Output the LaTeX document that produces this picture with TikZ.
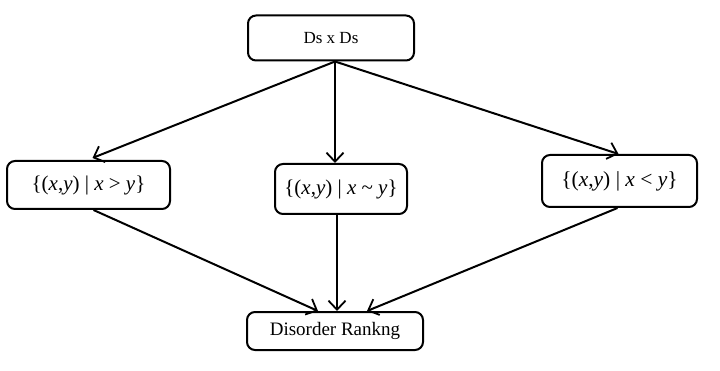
\documentclass[tikz,border=0pt]{standalone}
\usepackage{fontspec}
\setmainfont{Liberation Serif}
\usetikzlibrary{arrows.meta}
\newcommand{\vx}{\textit{x}}
\newcommand{\vy}{\textit{y}}
\begin{document}
\begin{tikzpicture}[x=1pt,y=-1pt,
  box/.style={draw,line width=2pt,rounded corners=8pt,inner sep=0pt,align=center},
  conn/.style={line width=2pt,-{Straight Barb[length=9pt,width=17pt,line width=1.8pt]}}]
\useasboundingbox (0,0) rectangle (720,371);
\node[box,minimum width=166pt,minimum height=45pt,font=\fontsize{17}{19}\selectfont] (top) at (331,38) {Ds x Ds};
\node[box,minimum width=163pt,minimum height=48pt,font=\fontsize{21}{24}\selectfont] (left) at (88.5,185) {\{(\vx,\vy) | \vx{} > \vy\}};
\node[box,minimum width=132pt,minimum height=50pt,font=\fontsize{21}{24}\selectfont] (mid) at (341,189) {\{(\vx,\vy) | \vx{} \textasciitilde{} \vy\}};
\node[box,minimum width=155pt,minimum height=52pt,font=\fontsize{21.5}{24}\selectfont] (right) at (619.5,181) {\{(\vx,\vy) | \vx{} < \vy\}};
\node[box,minimum width=176pt,minimum height=38pt,font=\fontsize{19}{22}\selectfont] (bot) at (335,331) {Disorder Rankng};
\coordinate (fan) at ([xshift=4pt]top.south);
\draw[conn] (fan) -- ([xshift=4pt,yshift=2pt]left.north);
\draw[conn] (fan) -- ([xshift=-6pt]mid.north);
\draw[conn] (fan) -- ([xshift=-1pt]right.north);
\draw[conn] ([xshift=5pt]left.south) -- ([xshift=-17pt]bot.north);
\draw[conn] ([xshift=-4pt]mid.south) -- ([xshift=2pt]bot.north);
\draw[conn] ([xshift=-2pt]right.south) -- ([xshift=32pt]bot.north);
\end{tikzpicture}
\end{document}
